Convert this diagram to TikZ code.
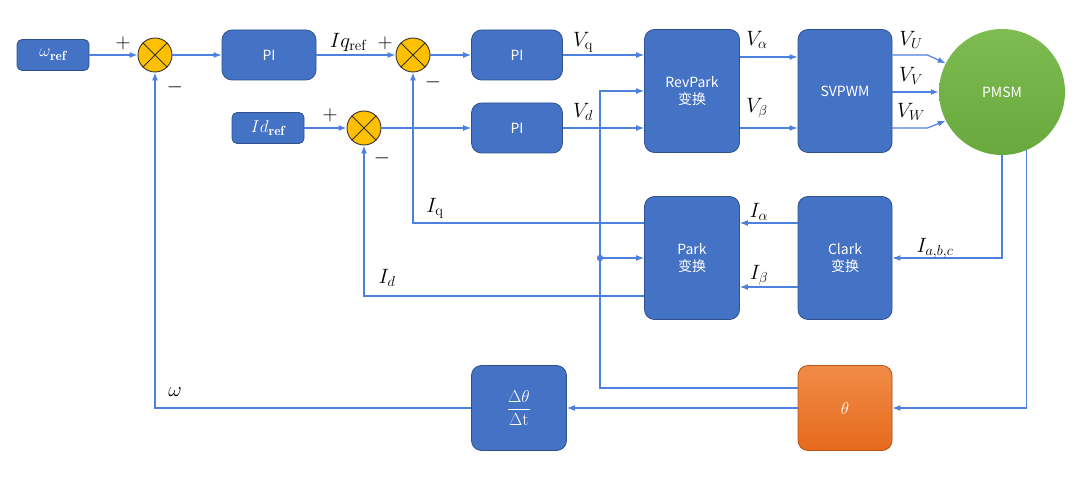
\documentclass[tikz,border=0pt]{standalone}
\usepackage{fontspec}
\newfontfamily\cjk{Noto Sans CJK SC}
\usetikzlibrary{arrows.meta,calc}
\definecolor{boxblue}{RGB}{68,114,196}
\definecolor{boxborder}{RGB}{47,82,143}
\definecolor{linecol}{RGB}{78,128,222}
\definecolor{sumfill}{RGB}{255,192,0}
\definecolor{greenA}{RGB}{126,188,82}
\definecolor{greenB}{RGB}{104,168,60}
\definecolor{orangeA}{RGB}{240,140,72}
\definecolor{orangeB}{RGB}{230,106,28}
\tikzset{
  blk/.style={draw=boxborder, fill=boxblue, rounded corners=10pt, text=white,
    font=\cjk\fontsize{14}{17}\selectfont, align=center, inner sep=0pt, line width=0.8pt},
  refbox/.style={blk, rounded corners=5pt, minimum width=72pt, minimum height=31pt,
    font=\fontsize{19}{22}\selectfont},
  sumnode/.style={circle, draw=black!80, fill=sumfill, minimum size=34pt, inner sep=0pt, line width=0.9pt},
  wire/.style={draw=linecol, line width=1.2pt},
  arr/.style={wire, -{Latex[length=8pt,width=6pt]}},
  lab/.style={font=\fontsize{21}{25}\selectfont, inner sep=0pt},
}
\newcommand{\sumx}[1]{\draw[black!80, line width=0.9pt] (#1.north west) -- (#1.south east) (#1.north east) -- (#1.south west);}
\begin{document}
\begin{tikzpicture}[x=1pt,y=-1pt]
\useasboundingbox (0,0) rectangle (1080,481);
% nodes
\node[refbox] (wref) at (53,55) {$\omega_{\mathbf{ref}}$};
\node[sumnode] (sum1) at (155,55) {}; \sumx{sum1}
\node[blk, minimum width=94pt, minimum height=50pt] (pi1) at (269,55) {PI};
\node[sumnode] (sum2) at (413,55) {}; \sumx{sum2}
\node[blk, minimum width=91pt, minimum height=50pt] (pi2) at (517,55) {PI};
\node[refbox] (idref) at (268,128) {$Id_{\mathbf{ref}}$};
\node[sumnode] (sum3) at (364,128) {}; \sumx{sum3}
\node[blk, minimum width=91pt, minimum height=50pt] (pi3) at (517,128) {PI};
\node[blk, minimum width=95pt, minimum height=123pt] (rev) at (692,91) {RevPark\\变换};
\node[blk, minimum width=94pt, minimum height=123pt] (svpwm) at (845,91) {SVPWM};
\node[circle, draw=none, top color=greenA, bottom color=greenB, minimum size=126pt,
  inner sep=0pt, text=white, font=\cjk\fontsize{14}{17}\selectfont] (pmsm) at (1002,92) {PMSM};
\node[blk, minimum width=95pt, minimum height=123pt] (park) at (692,258) {Park\\变换};
\node[blk, minimum width=94pt, minimum height=123pt] (clark) at (845,258) {Clark\\变换};
\node[blk, draw=orangeB!80!black, top color=orangeA, bottom color=orangeB, minimum width=94pt, minimum height=85pt,
  font=\fontsize{18}{21}\selectfont] (theta) at (845,408) {$\theta$};
\node[blk, minimum width=95pt, minimum height=85pt, font=\fontsize{18}{21}\selectfont] (dt) at (519,408)
  {$\displaystyle\frac{\Delta\theta}{\Delta\mathrm{t}}$};
\coordinate (vx) at (600,0);
% connectors
\draw[arr] (wref.east) -- (sum1.west);
\draw[arr] (sum1.east) -- (pi1.west);
\draw[arr] (pi1.east) -- (sum2.west);
\draw[arr] (sum2.east) -- (pi2.west);
\draw[arr] (pi2.east) -- (pi2.east -| rev.west);
\draw[arr] (idref.east) -- (sum3.west);
\draw[arr] (sum3.east) -- (pi3.west);
\draw[arr] (pi3.east) -- (pi3.east -| rev.west);
\draw[arr] ([yshift=34pt]rev.east) -- ([yshift=34pt]svpwm.west);
\draw[arr] ([yshift=-37pt]rev.east) -- ([yshift=-37pt]svpwm.west);
\draw[arr] ([yshift=36pt]svpwm.east) -- ++(35,0) -- (pmsm.153);
\draw[arr] ([yshift=-1pt]svpwm.east) -- (pmsm.west);
\draw[arr] ([yshift=-37pt]svpwm.east) -- ++(35,0) -- (pmsm.207);
\draw[arr] (pmsm.south) -- (pmsm.south |- clark.east) -- (clark.east);
\draw[arr] (pmsm.-67) -- (pmsm.-67 |- theta.east) -- (theta.east);
\draw[arr] ([yshift=35pt]clark.west) -- ([yshift=35pt]park.east);
\draw[arr] ([yshift=-29pt]clark.west) -- ([yshift=-29pt]park.east);
\draw[arr] ([yshift=35pt]park.west) -| (sum2.south);
\draw[arr] ([yshift=-38pt]park.west) -| (sum3.south);
\draw[arr] ([yshift=20pt]theta.west) -| (vx |- rev.west) -- (rev.west);
\draw[arr] (vx |- park.west) -- (park.west);
\fill[linecol] (vx |- park.west) circle (3.2pt);
\draw[arr] (theta.west) -- (dt.east);
\draw[arr] (dt.west) -| (sum1.south);
% labels
\node[lab] (p1) at (123,43) {$+$};
\node[lab] (m1) at (175,87) {$-$};
\node[lab] (lIqref) at (348,42) {$Iq_{\mathrm{ref}}$};
\node[lab] (p2) at (385,43) {$+$};
\node[lab] (m2) at (433,82) {$-$};
\node[lab] (p3) at (330,115) {$+$};
\node[lab] (m3) at (382,158) {$-$};
\node[lab] (lVq) at (583,42) {$V_{\mathrm{q}}$};
\node[lab] (lVd) at (583,112) {$V_d$};
\node[lab] (lVa) at (757,40) {$V_\alpha$};
\node[lab] (lVb) at (757,108) {$V_\beta$};
\node[lab] (lVU) at (911,40) {$V_U$};
\node[lab] (lVV) at (911,76) {$V_V$};
\node[lab] (lVW) at (911,112) {$V_W$};
\node[lab] (lIa) at (759,212) {$I_\alpha$};
\node[lab] (lIb) at (759,275) {$I_\beta$};
\node[lab] (lIabc) at (935,248) {$I_{a,b,c}$};
\node[lab] (lIq) at (435,208) {$I_{\mathrm{q}}$};
\node[lab] (lId) at (387,278) {$I_d$};
\node[lab] (lw) at (175,392) {$\omega$};
\end{tikzpicture}
\end{document}
